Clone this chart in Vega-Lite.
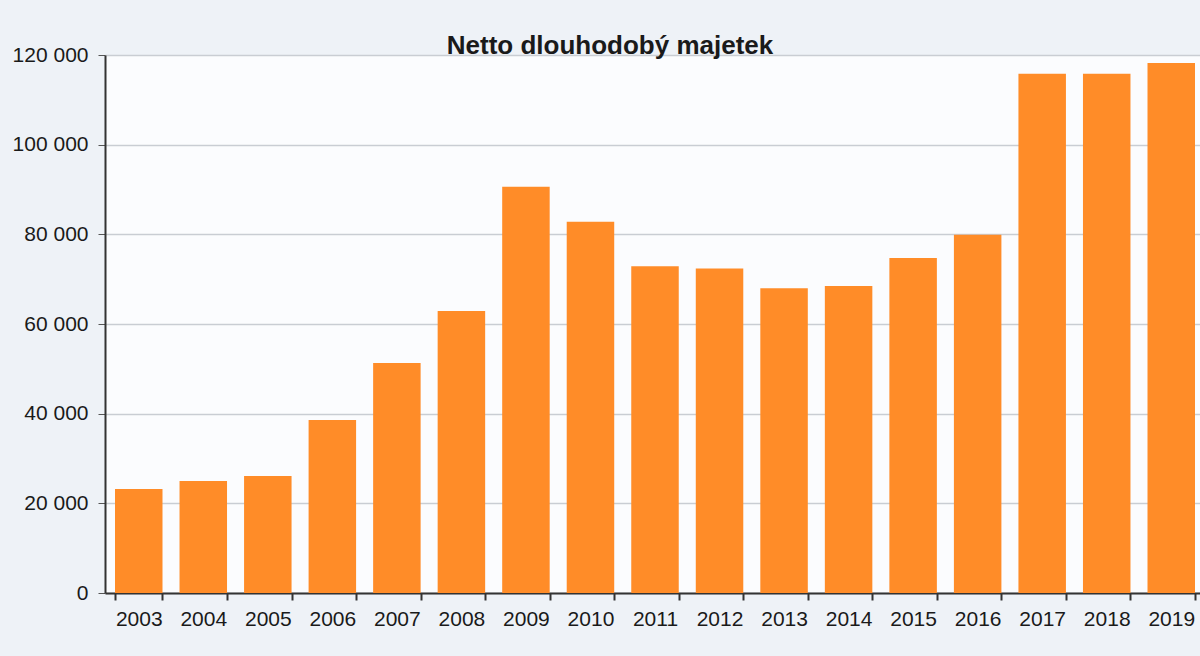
{
  "$schema": "https://vega.github.io/schema/vega-lite/v6.json",
  "autosize": "none",
  "width": 1100,
  "height": 538,
  "padding": {"left": 105, "top": 55, "right": 0, "bottom": 63},
  "background": "#eef2f7",
  "title": {
    "text": "Netto dlouhodobý majetek",
    "font": "Liberation Sans",
    "fontSize": 26,
    "fontWeight": "bold",
    "color": "#1a1a1a",
    "anchor": "middle",
    "frame": "group",
    "offset": -15,
    "dx": -45
  },
  "config": {
    "view": {"stroke": null, "fill": "#fbfcfe"},
    "font": "Liberation Sans"
  },
  "data": {
    "values": [
      {"rok": "2003", "hodnota": 23200},
      {"rok": "2004", "hodnota": 25000},
      {"rok": "2005", "hodnota": 26100},
      {"rok": "2006", "hodnota": 38600},
      {"rok": "2007", "hodnota": 51300},
      {"rok": "2008", "hodnota": 62900},
      {"rok": "2009", "hodnota": 90600},
      {"rok": "2010", "hodnota": 82800},
      {"rok": "2011", "hodnota": 72900},
      {"rok": "2012", "hodnota": 72400},
      {"rok": "2013", "hodnota": 68000},
      {"rok": "2014", "hodnota": 68500},
      {"rok": "2015", "hodnota": 74700},
      {"rok": "2016", "hodnota": 79900},
      {"rok": "2017", "hodnota": 115800},
      {"rok": "2018", "hodnota": 115800},
      {"rok": "2019", "hodnota": 118200}
    ]
  },
  "mark": {"type": "bar", "color": "#ff8c28"},
  "encoding": {
    "x": {
      "field": "rok",
      "type": "ordinal",
      "scale": {"paddingInner": 0.264, "paddingOuter": 0.155},
      "axis": {
        "title": null,
        "labelAngle": 0,
        "labelFontSize": 21,
        "labelColor": "#1a1a1a",
        "labelPadding": 8,
        "tickBand": "extent",
        "tickSize": 7,
        "tickColor": "#333333",
        "tickWidth": 2,
        "domainColor": "#333333",
        "domainWidth": 2,
        "grid": false
      }
    },
    "y": {
      "field": "hodnota",
      "type": "quantitative",
      "scale": {"domain": [0, 120000]},
      "axis": {
        "title": null,
        "values": [0, 20000, 40000, 60000, 80000, 100000, 120000],
        "labelExpr": "replace(format(datum.value, ','), ',', ' ')",
        "labelFontSize": 21,
        "labelColor": "#1a1a1a",
        "labelPadding": 10,
        "tickSize": 7,
        "tickColor": "#555555",
        "domainColor": "#333333",
        "domainWidth": 2,
        "gridColor": "#c9cdd3",
        "gridWidth": 1.5
      }
    }
  }
}
